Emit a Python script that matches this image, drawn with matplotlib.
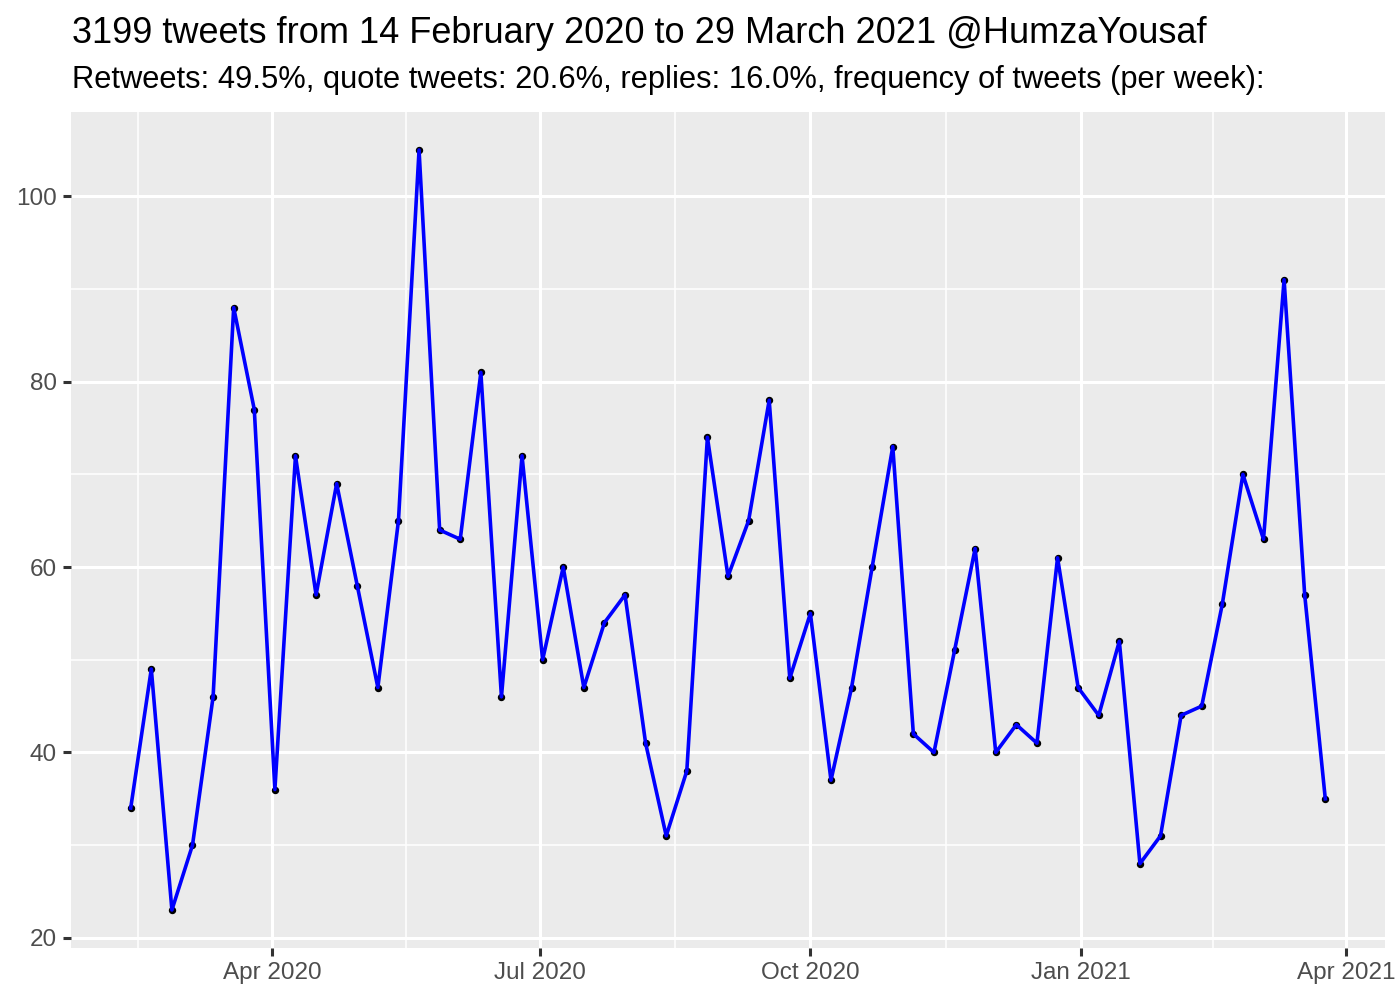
import matplotlib
matplotlib.use("Agg")
import matplotlib.pyplot as plt
import matplotlib.dates as mdates
import numpy as np
import pandas as pd

plt.rcParams["font.family"] = ["Liberation Sans", "DejaVu Sans"]

start = "2020-02-13"
tweets = [34, 49, 23, 30, 46, 88, 77, 36, 72, 57,
          69, 58, 47, 65, 105, 64, 63, 81, 46, 72,
          50, 60, 47, 54, 57, 41, 31, 38, 74, 59,
          65, 78, 48, 55, 37, 47, 60, 73, 42, 40,
          51, 62, 40, 43, 41, 61, 47, 44, 52, 28,
          31, 44, 45, 56, 70, 63, 91, 57, 35]
weeks = pd.date_range(start, periods=len(tweets), freq="7D")

title = "3199 tweets from 14 February 2020 to 29 March 2021 @HumzaYousaf"
subtitle = ("Retweets: 49.5%, quote tweets: 20.6%, replies: 16.0%, "
            "frequency of tweets (per week):")

major_dates = pd.to_datetime(["2020-01-01", "2020-04-01", "2020-07-01", "2020-10-01",
                              "2021-01-01", "2021-04-01"])
y_major = [20, 40, 60, 80, 100]
y_minor = [30, 50, 70, 90]

fig = plt.figure(figsize=(14, 10), dpi=100)
ax = fig.add_axes([0.0507, 0.052, 0.9386, 0.836])
ax.set_facecolor("#EBEBEB")

x = mdates.date2num(weeks)
xm = mdates.date2num(major_dates)
x_minor = (xm[:-1] + xm[1:]) / 2

# ggplot-style 5% expansion
span = x.max() - x.min()
ax.set_xlim(x.min() - 0.05 * span, x.max() + 0.05 * span)
yspan = max(tweets) - min(tweets)
ax.set_ylim(min(tweets) - 0.05 * yspan, max(tweets) + 0.05 * yspan)

ax.set_xticks(xm[1:])
ax.set_xticklabels([d.strftime("%b %Y") for d in major_dates[1:]])
ax.set_xticks(x_minor, minor=True)
ax.set_yticks(y_major)
ax.set_yticks(y_minor, minor=True)

ax.grid(which="major", color="white", linewidth=2.2)
ax.grid(which="minor", color="white", linewidth=1.1)
ax.set_axisbelow(True)
for s in ax.spines.values():
    s.set_visible(False)
ax.tick_params(which="major", length=5.5, width=2.2, color="#333333",
               labelsize=17.5, labelcolor="#4D4D4D", pad=4.5)
ax.tick_params(which="minor", length=0)

ax.plot(x, tweets, "o", color="black", markersize=4.3, zorder=3)
ax.plot(x, tweets, color="blue", linewidth=2.6, zorder=4)

fig.text(0.0514, 0.957, title, fontsize=26, ha="left", va="baseline")
fig.text(0.0514, 0.912, subtitle, fontsize=22.2, ha="left", va="baseline")

fig.savefig("out.png", dpi=100)
